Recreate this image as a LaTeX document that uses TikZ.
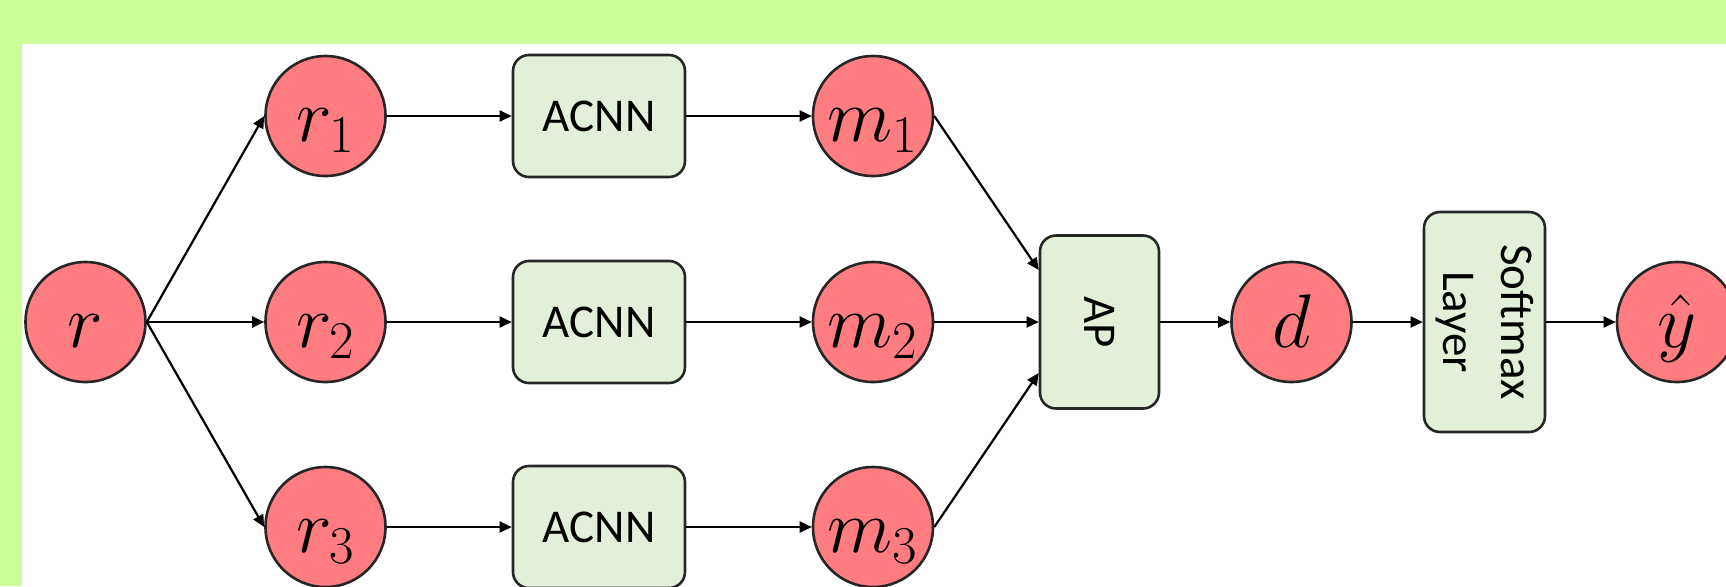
\RequirePackage{fix-cm}
\documentclass[tikz,border=0pt]{standalone}
\usepackage[no-math]{fontspec}
\usepackage{graphicx}
\newfontfamily\boxfont{Carlito}
\usetikzlibrary{arrows.meta}

\definecolor{bandgreen}{RGB}{204,255,153}
\definecolor{nodered}{RGB}{255,124,128}
\definecolor{boxgreen}{RGB}{226,240,217}
\definecolor{inkline}{RGB}{38,38,38}

\begin{document}
\begin{tikzpicture}[x=0.5pt,y=-0.5pt,
  var/.style={circle, draw=inkline, line width=1.3pt, fill=nodered,
    minimum size=60pt, inner sep=0pt,
    font=\fontsize{38}{42}\selectfont, text height=27pt, text depth=1.5pt},
  block/.style={rectangle, rounded corners=8pt, draw=inkline, line width=1.3pt,
    fill=boxgreen, inner sep=0pt,
    font=\boxfont\fontsize{23.5}{29}\selectfont},
  acnn/.style={block, minimum width=86pt, minimum height=61pt},
  flow/.style={draw=black, line width=1.1pt,
    -{Triangle[length=6pt,width=5.5pt]}},
]
% canvas: green frame with white panel
\useasboundingbox (0,0) rectangle (1726,586);
\clip (0,0) rectangle (1726,586);
\fill[bandgreen] (0,0) rectangle (1726,586);
\fill[white] (22,44) rectangle (1726,586);

% input and its three splits
\node[var] (r)  at (85.5,322) {$r$};
\node[var] (r1) at (325.5,116) {$r_1$};
\node[var] (r2) at (325.5,322) {$r_2$};
\node[var] (r3) at (325.5,527) {$r_3$};

% ACNN branches
\node[acnn] (c1) at (599,116) {ACNN};
\node[acnn] (c2) at (599,322) {ACNN};
\node[acnn] (c3) at (599,527) {ACNN};

% branch outputs
\node[var] (m1) at (873,116) {$m_1$};
\node[var] (m2) at (873,322) {$m_2$};
\node[var] (m3) at (873,527) {$m_3$};

% pooling, representation, classifier, prediction
\node[block, minimum width=59.5pt, minimum height=86.5pt] (ap) at (1099.5,322)
  {\rotatebox{-90}{AP}};
\node[var] (d) at (1291.5,322) {$d$};
\node[block, minimum width=60.5pt, minimum height=110pt] (sm) at (1484.5,322)
  {\rotatebox{-90}{\begin{tabular}{@{}c@{}}Softmax\\Layer\end{tabular}}};
\node[var] (y) at (1677,322) {$\hat{y}$};

% connectors
\draw[flow] (r.east) -- (r1.west);
\draw[flow] (r.east) -- (r2.west);
\draw[flow] (r.east) -- (r3.west);
\draw[flow] (r1.east) -- (c1.west);
\draw[flow] (r2.east) -- (c2.west);
\draw[flow] (r3.east) -- (c3.west);
\draw[flow] (c1.east) -- (m1.west);
\draw[flow] (c2.east) -- (m2.west);
\draw[flow] (c3.east) -- (m3.west);
\draw[flow] (m1.east) -- ([yshift=26pt]ap.west);
\draw[flow] (m2.east) -- (ap.west);
\draw[flow] (m3.east) -- ([yshift=-25.5pt]ap.west);
\draw[flow] (ap.east) -- (d.west);
\draw[flow] (d.east) -- (sm.west);
\draw[flow] (sm.east) -- (y.west);
\end{tikzpicture}
\end{document}
